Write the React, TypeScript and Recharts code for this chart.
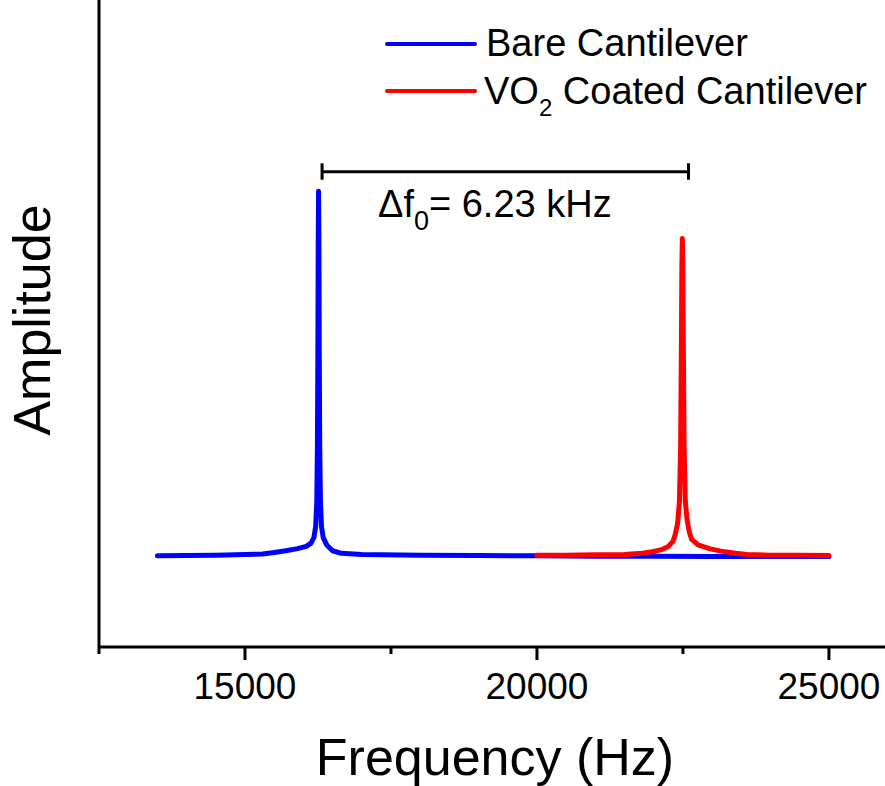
import { LineChart, Line, XAxis, YAxis, ReferenceLine } from 'recharts';

// frequency (Hz) / amplitude (arb. units)
const bareFreq = [
  13500, 14000, 14500, 15000, 15300, 15500, 15700, 15900, 16050, 16130, 16180, 16210,
  16230, 16240, 16248, 16254, 16260, 16266, 16272, 16280, 16292, 16310, 16340, 16400,
  16500, 16650, 17000, 18000, 19000, 20000, 21000, 22000, 23000, 24000, 25000,
];
const bareAmp = [
  0.0, 0.001, 0.002, 0.004, 0.005, 0.009, 0.014, 0.02, 0.026, 0.035, 0.05, 0.08,
  0.15, 0.3, 0.55, 0.85, 1.0, 0.85, 0.55, 0.3, 0.15, 0.08, 0.05, 0.03,
  0.014, 0.007, 0.004, 0.002, 0.001, 0.0, -0.001, -0.001, -0.002, -0.002, -0.002,
];

const coatedFreq = [
  20000, 20500, 21000, 21500, 21800, 22000, 22150, 22250, 22330, 22370, 22410, 22440,
  22460, 22472, 22482, 22490, 22498, 22508, 22520, 22540, 22570, 22610, 22650, 22760,
  22950, 23150, 23400, 23600, 24000, 24500, 25000,
];
const coatedAmp = [
  0.002, 0.002, 0.003, 0.004, 0.007, 0.012, 0.018, 0.026, 0.04, 0.06, 0.09, 0.15,
  0.3, 0.55, 0.8, 0.871, 0.8, 0.55, 0.3, 0.15, 0.1, 0.065, 0.045, 0.03,
  0.02, 0.013, 0.007, 0.004, 0.002, 0.002, 0.001,
];

const xTicks = [12500, 15000, 17500, 20000, 22500, 25000];
const labeledTicks = [15000, 20000, 25000];

// Δf0 bracket, drawn in data units
const bracketFreq = [16320, 22595];
const bracketAmp = 1.054;
const capAmp = [1.032, 1.077];

const FONT = '"Liberation Sans", Arial, sans-serif';

const bareData = bareFreq.map((f, i) => ({ f, a: bareAmp[i] }));
const coatedData = coatedFreq.map((f, i) => ({ f, a: coatedAmp[i] }));

function FreqTick(props: any) {
  const { x, y, payload } = props;
  const major = labeledTicks.includes(payload.value);
  return (
    <g>
      <line x1={x} x2={x} y1={y} y2={y + (major ? 13 : 7)} stroke="#000" strokeWidth={3} />
      {major && (
        <text x={x} y={y + 52} textAnchor="middle" fontSize={37} fontFamily={FONT} fill="#000">
          {payload.value}
        </text>
      )}
    </g>
  );
}

export default function App() {
  return (
    <div style={{ position: 'absolute', left: 0, top: 0, width: 885, height: 786, overflow: 'hidden', background: '#fff' }}>
      <LineChart width={885} height={786} margin={{ top: 0, right: 0, bottom: 0, left: 89 }}>
        <XAxis
          type="number"
          dataKey="f"
          domain={[12500, 25960]}
          allowDataOverflow
          ticks={xTicks}
          tick={<FreqTick />}
          tickLine={false}
          tickSize={0}
          tickMargin={0}
          height={139}
          axisLine={{ stroke: '#000', strokeWidth: 3 }}
        />
        <YAxis
          type="number"
          domain={[-0.25, 1.525]}
          allowDataOverflow
          tick={false}
          tickLine={false}
          width={10}
          axisLine={{ stroke: '#000', strokeWidth: 3 }}
        />
        <Line
          data={bareData}
          dataKey="a"
          type="linear"
          stroke="#0000ff"
          strokeWidth={5}
          strokeLinecap="round"
          strokeLinejoin="round"
          dot={false}
          isAnimationActive={false}
        />
        <Line
          data={coatedData}
          dataKey="a"
          type="linear"
          stroke="#ff0000"
          strokeWidth={5}
          strokeLinecap="round"
          strokeLinejoin="round"
          dot={false}
          isAnimationActive={false}
        />
        <ReferenceLine
          segment={[{ x: bracketFreq[0], y: bracketAmp }, { x: bracketFreq[1], y: bracketAmp }]}
          stroke="#000"
          strokeWidth={3}
          ifOverflow="visible"
        />
        <ReferenceLine
          segment={[{ x: bracketFreq[0], y: capAmp[0] }, { x: bracketFreq[0], y: capAmp[1] }]}
          stroke="#000"
          strokeWidth={3}
          ifOverflow="visible"
        />
        <ReferenceLine
          segment={[{ x: bracketFreq[1], y: capAmp[0] }, { x: bracketFreq[1], y: capAmp[1] }]}
          stroke="#000"
          strokeWidth={3}
          ifOverflow="visible"
        />
      </LineChart>
      <svg width={885} height={786} style={{ position: 'absolute', left: 0, top: 0, pointerEvents: 'none' }}>
        {/* legend */}
        <line x1={387} x2={475} y1={44} y2={44} stroke="#0000ff" strokeWidth={4} strokeLinecap="round" />
        <text x={486} y={56} fontSize={38} fontFamily={FONT} fill="#000">Bare Cantilever</text>
        <line x1={387} x2={475} y1={91} y2={91} stroke="#ff0000" strokeWidth={4} strokeLinecap="round" />
        <text x={484} y={104} fontSize={38} fontFamily={FONT} fill="#000">
          VO<tspan fontSize={24} dy={12}>2</tspan>
          <tspan dy={-12}> Coated Cantilever</tspan>
        </text>
        {/* annotation */}
        <text x={378} y={217} fontSize={38} fontFamily={FONT} fill="#000">
          Δf<tspan fontSize={27} dy={13}>0</tspan>
          <tspan dy={-13}>= 6.23 kHz</tspan>
        </text>
        {/* axis titles */}
        <text x={495} y={775} textAnchor="middle" fontSize={52} fontFamily={FONT} fill="#000">Frequency (Hz)</text>
        <text
          x={50}
          y={320}
          textAnchor="middle"
          fontSize={52}
          fontFamily={FONT}
          fill="#000"
          transform="rotate(-90 50 320)"
        >
          Amplitude
        </text>
      </svg>
    </div>
  );
}
